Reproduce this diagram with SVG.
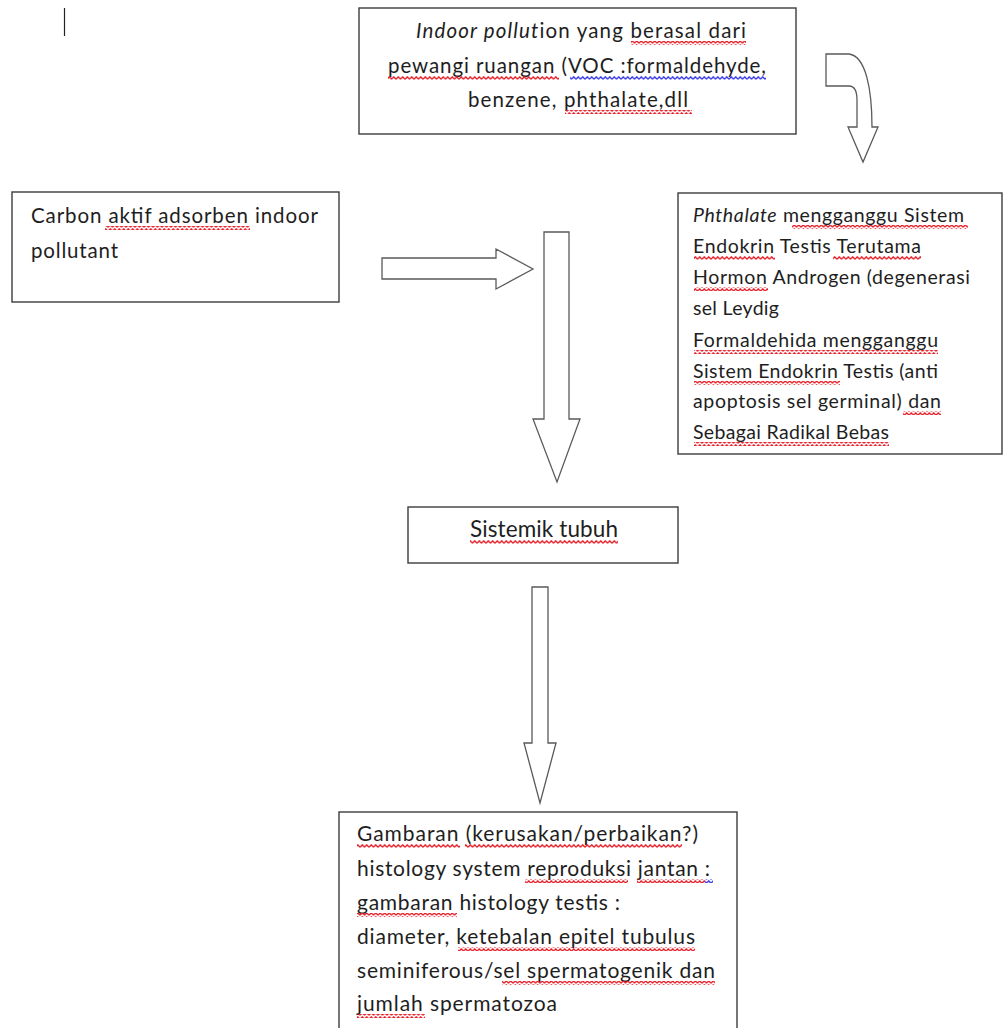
<svg xmlns="http://www.w3.org/2000/svg" width="1003" height="1028" viewBox="0 0 1003 1028">
<style>
.box{fill:#fff;stroke:#3c3c3c;stroke-width:1.4}
.arr{fill:#fff;stroke:#5a5a5a;stroke-width:1.3;stroke-linejoin:miter}
.t{font-family:Lato,"Open Sans","Liberation Sans",sans-serif;fill:#1e1e1e}
.it{font-style:italic}
.sr{fill:url(#wavyRed)}
.sb{fill:url(#wavyBlue)}
</style>
<defs>
<pattern id="wavyRed" patternUnits="userSpaceOnUse" width="4.5" height="4">
<path d="M0,3.2 L2.25,0.8 L4.5,3.2" fill="none" stroke="#e8202a" stroke-width="1.4"/>
</pattern>
<pattern id="wavyBlue" patternUnits="userSpaceOnUse" width="4.5" height="4">
<path d="M0,3.2 L2.25,0.8 L4.5,3.2" fill="none" stroke="#3a3ae8" stroke-width="1.4"/>
</pattern>
</defs>
<rect width="1003" height="1028" fill="#fff"/>
<line x1="64.5" y1="8" x2="64.5" y2="36" stroke="#222" stroke-width="1.2"/>

<g id="connectors">
<path class="arr" d="M826,54 L849,54 C866,56 872,90 872,127 L878,127 L863,162 L848,127 L857,127 L857,100 C857,90 854,86 849,86 L826,86 Z"/>
<path class="arr" d="M382,258 L496,258 L496,249 L533,269 L496,289 L496,279 L382,279 Z"/>
<path class="arr" d="M544,232 L569,232 L569,419 L580,419 L557,482 L533,419 L544,419 Z"/>
<path class="arr" d="M532,587 L548,587 L548,743 L556,743 L540,803 L524,743 L532,743 Z"/>
</g>

<g id="node-indoor">
<rect class="box" x="359" y="8" width="437" height="126"/>
<text class="t" font-size="20.5" x="416" y="38" textLength="330" lengthAdjust="spacing"><tspan class="it">Indoor pollut</tspan>ion yang berasal dari</text>
<text class="t" font-size="20.5" x="388" y="73" textLength="378" lengthAdjust="spacing">pewangi ruangan (VOC :formaldehyde,</text>
<text class="t" font-size="20.5" x="468" y="107" textLength="220" lengthAdjust="spacing">benzene, phthalate,dll</text>
<rect class="sr" x="631" y="41" width="115" height="4"/>
<rect class="sr" x="388" y="76" width="171" height="4"/>
<rect class="sb" x="570" y="76" width="196" height="4"/>
<rect class="sr" x="565" y="110" width="127" height="4"/>
</g>

<g id="node-carbon">
<rect class="box" x="12" y="192" width="327" height="110"/>
<text class="t" font-size="20.5" x="31" y="223" textLength="287" lengthAdjust="spacing">Carbon aktif adsorben indoor</text>
<text class="t" font-size="20.5" x="31" y="258" textLength="87" lengthAdjust="spacing">pollutant</text>
<rect class="sr" x="105" y="226" width="145" height="4"/>
</g>

<g id="node-phthalate">
<rect class="box" x="678" y="193" width="324" height="261"/>
<text class="t" font-size="19.5" x="693" y="222" textLength="271" lengthAdjust="spacing"><tspan class="it">Phthalate</tspan> mengganggu Sistem</text>
<text class="t" font-size="19.5" x="693" y="253" textLength="228" lengthAdjust="spacing">Endokrin Testis Terutama</text>
<text class="t" font-size="19.5" x="693" y="284" textLength="277" lengthAdjust="spacing">Hormon Androgen (degenerasi</text>
<text class="t" font-size="19.5" x="693" y="315" textLength="86" lengthAdjust="spacing">sel Leydig</text>
<text class="t" font-size="19.5" x="693" y="347" textLength="245" lengthAdjust="spacing">Formaldehida mengganggu</text>
<text class="t" font-size="19.5" x="693" y="378" textLength="245" lengthAdjust="spacing">Sistem Endokrin Testis (anti</text>
<text class="t" font-size="19.5" x="693" y="408" textLength="248" lengthAdjust="spacing">apoptosis sel germinal) dan</text>
<text class="t" font-size="19.5" x="693" y="439" textLength="196" lengthAdjust="spacing">Sebagai Radikal Bebas</text>
<rect class="sr" x="792" y="225" width="176" height="4"/>
<rect class="sr" x="694" y="256" width="81" height="4"/>
<rect class="sr" x="833" y="256" width="88" height="4"/>
<rect class="sr" x="694" y="287" width="74" height="4"/>
<rect class="sr" x="694" y="350" width="244" height="4"/>
<rect class="sr" x="694" y="381" width="146" height="4"/>
<rect class="sr" x="903" y="411" width="38" height="4"/>
<rect class="sr" x="694" y="442" width="195" height="4"/>
</g>

<g id="node-sistemik">
<rect class="box" x="408" y="507" width="270" height="56"/>
<text class="t" font-size="22.5" x="470" y="537" textLength="148" lengthAdjust="spacing">Sistemik tubuh</text>
<rect class="sr" x="470" y="540" width="148" height="4"/>
</g>

<g id="node-gambaran">
<rect class="box" x="339" y="812" width="398" height="230"/>
<text class="t" font-size="21" x="357" y="841" textLength="341" lengthAdjust="spacing">Gambaran (kerusakan/perbaikan?)</text>
<text class="t" font-size="21" x="357" y="876" textLength="353" lengthAdjust="spacing">histology system reproduksi jantan :</text>
<text class="t" font-size="21" x="357" y="910" textLength="263" lengthAdjust="spacing">gambaran histology testis :</text>
<text class="t" font-size="21" x="357" y="944" textLength="338" lengthAdjust="spacing">diameter, ketebalan epitel tubulus</text>
<text class="t" font-size="21" x="357" y="978" textLength="358" lengthAdjust="spacing">seminiferous/sel spermatogenik dan</text>
<text class="t" font-size="21" x="357" y="1011" textLength="200" lengthAdjust="spacing">jumlah spermatozoa</text>
<rect class="sr" x="357" y="844" width="103" height="4"/>
<rect class="sr" x="465" y="844" width="217" height="4"/>
<rect class="sr" x="525" y="879" width="103" height="4"/>
<rect class="sr" x="637" y="879" width="68" height="4"/>
<rect class="sb" x="705" y="879" width="8" height="4"/>
<rect class="sr" x="357" y="913" width="100" height="4"/>
<rect class="sr" x="458" y="947" width="237" height="4"/>
<rect class="sr" x="502" y="981" width="213" height="4"/>
<rect class="sr" x="357" y="1014" width="68" height="4"/>
</g>
</svg>
